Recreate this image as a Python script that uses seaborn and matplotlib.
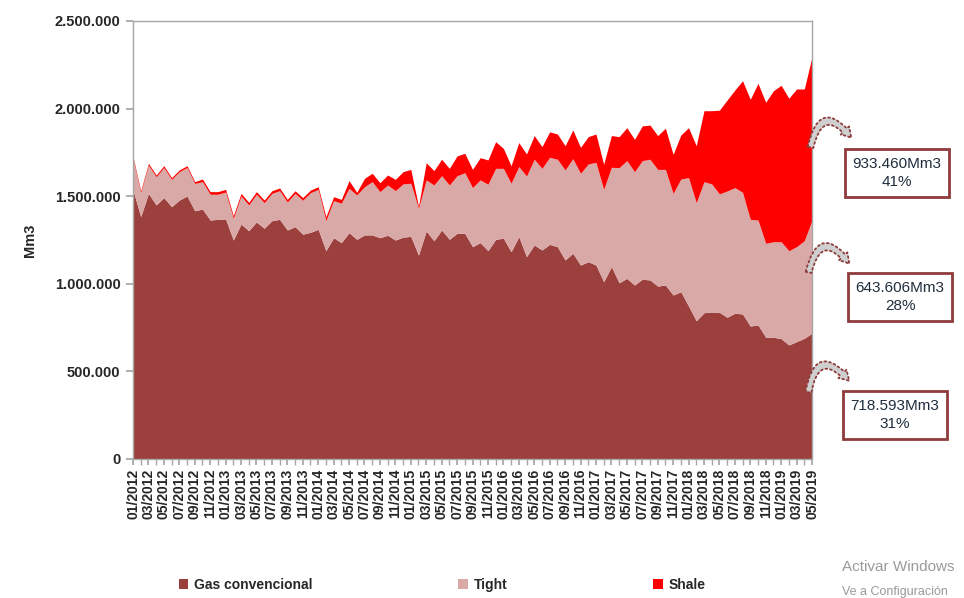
import numpy as np
import pandas as pd
import matplotlib
matplotlib.use("Agg")
import matplotlib.pyplot as plt
import matplotlib.ticker as mticker
from matplotlib.patches import Patch, FancyArrowPatch
import seaborn as sns

sns.set_theme(style="white")
plt.rcParams["font.family"] = ["Liberation Sans", "DejaVu Sans"]

# monthly production, thousands of m3 (01/2012 .. 05/2019)
conventional = [
    1535, 1383, 1516, 1450, 1492, 1440, 1478, 1501, 1417, 1427, 1364, 1368,
    1370, 1250, 1341, 1303, 1353, 1317, 1360, 1368, 1307, 1326, 1283, 1294,
    1311, 1189, 1263, 1235, 1292, 1254, 1279, 1279, 1263, 1277, 1250, 1266,
    1271, 1164, 1301, 1246, 1307, 1254, 1288, 1288, 1212, 1235, 1189, 1254,
    1260, 1183, 1269, 1155, 1222, 1193, 1225, 1212, 1136, 1174, 1107, 1126,
    1107, 1012, 1098, 1006, 1031, 993, 1026, 1022, 987, 993, 936, 955,
    873, 789, 835, 839, 837, 809, 832, 828, 759, 765, 695, 695,
    687, 651, 670, 689, 718.593,
]
tight = [
    180, 138, 162, 161, 172, 156, 162, 163, 156, 156, 147, 143,
    154, 124, 160, 147, 158, 146, 156, 164, 160, 190, 194, 226,
    228, 172, 212, 225, 253, 253, 275, 304, 263, 287, 282, 304,
    303, 267, 292, 318, 310, 310, 329, 346, 337, 358, 379, 405,
    399, 391, 400, 460, 489, 466, 497, 499, 514, 540, 524, 558,
    586, 527, 567, 657, 672, 647, 677, 689, 666, 660, 580, 643,
    733, 674, 748, 731, 676, 721, 717, 694, 609, 599, 536, 545,
    553, 538, 542, 557, 643.606,
]
shale = [
    10, 10, 10, 10, 10, 10, 10, 10, 10, 15, 15, 15,
    15, 15, 15, 15, 15, 15, 15, 15, 15, 15, 15, 15,
    15, 22, 22, 22, 44, 15, 48, 48, 51, 57, 64, 70,
    79, 12, 98, 82, 94, 95, 113, 111, 104, 127, 139, 152,
    114, 100, 137, 126, 135, 124, 145, 144, 138, 164, 148, 156,
    162, 143, 181, 177, 188, 185, 198, 195, 193, 235, 223, 251,
    285, 325, 405, 418, 478, 519, 557, 637, 685, 780, 805, 862,
    893, 870, 900, 866, 933.460,
]
months = pd.date_range("2012-01-01", "2019-05-01", freq="MS")
series_names = ["Gas convencional", "Tight", "Shale"]
callouts = ["718.593Mm3\n31%", "643.606Mm3\n28%", "933.460Mm3\n41%"]

COLORS = ["#9C403E", "#D9A9A8", "#FF0000"]
BOX_EDGE = "#8E3B3B"

df = pd.DataFrame({
    "Gas convencional": np.array(conventional) * 1000,
    "Tight": np.array(tight) * 1000,
    "Shale": np.array(shale) * 1000,
})
x = np.arange(len(months))

fig = plt.figure(figsize=(9.64, 5.98), dpi=100)
ax = fig.add_axes([133 / 964, 1 - 459 / 598, (812 - 133) / 964, (459 - 21) / 598])

ax.stackplot(x, df["Gas convencional"], df["Tight"], df["Shale"], colors=COLORS, linewidth=0)

ax.set_xlim(0, len(x) - 1)
ax.set_ylim(0, 2_500_000)
ax.yaxis.set_major_locator(mticker.MultipleLocator(500_000))
ax.yaxis.set_major_formatter(mticker.FuncFormatter(lambda v, p: f"{int(v):,}".replace(",", ".")))
ax.set_xticks(x[::2])
ax.set_xticklabels([d.strftime("%m/%Y") for d in months[::2]], rotation=90)
ax.set_xticks(x, minor=True)

for s in ax.spines.values():
    s.set_color("#A6A6A6")
    s.set_linewidth(1.0)
ax.tick_params(axis="y", which="major", direction="out", length=5, color="#A6A6A6",
               left=True, labelsize=10.5, pad=4)
ax.tick_params(axis="x", which="both", direction="out", length=4, color="#A6A6A6",
               bottom=True, labelsize=10, pad=3)
for lab in ax.get_xticklabels() + ax.get_yticklabels():
    lab.set_fontweight("bold")
ax.set_ylabel("Mm3", fontsize=10.5, fontweight="bold", labelpad=13)

# callout boxes
box_pos = [(895 / 964, 1 - 415 / 598), (900 / 964, 1 - 297 / 598), (897 / 964, 1 - 173 / 598)]
for (bx, by), txt in zip(box_pos, callouts):
    fig.text(bx, by, txt, ha="center", va="center", fontsize=11, color="#1F2D3D",
             linespacing=1.35,
             bbox=dict(boxstyle="square,pad=0.5", facecolor="white", edgecolor=BOX_EDGE, linewidth=2))

# curved dotted arrows
arrow_pos = [((808, 395), (851, 383)), ((808, 275), (851, 266)), ((810, 150), (853, 140))]
for (x0, y0), (x1, y1) in arrow_pos:
    arr = FancyArrowPatch((x0 / 964, 1 - y0 / 598), (x1 / 964, 1 - y1 / 598),
                          transform=fig.transFigure, connectionstyle="arc3,rad=-1.1",
                          arrowstyle="simple,head_width=6,head_length=5,tail_width=3",
                          facecolor="#CFCFCF", edgecolor=BOX_EDGE, linestyle=":",
                          linewidth=1.3, mutation_scale=1.4)
    fig.add_artist(arr)

handles = [Patch(facecolor=c, edgecolor="none") for c in COLORS]
fig.legend(handles, series_names, loc="center left", bbox_to_anchor=(166 / 964, 1 - 585 / 598),
           ncol=3, frameon=False, handlelength=0.7, handleheight=0.7, handletextpad=0.4,
           columnspacing=10.5, prop={"weight": "bold", "size": 10})

# windows watermark from the screenshot
fig.text(842 / 964, 1 - 567 / 598, "Activar Windows", fontsize=11, color="#9A9A9A", va="center")
fig.text(842 / 964, 1 - 592 / 598, "Ve a Configuración", fontsize=9, color="#9A9A9A", va="center")

fig.savefig("out.png", dpi=100)
